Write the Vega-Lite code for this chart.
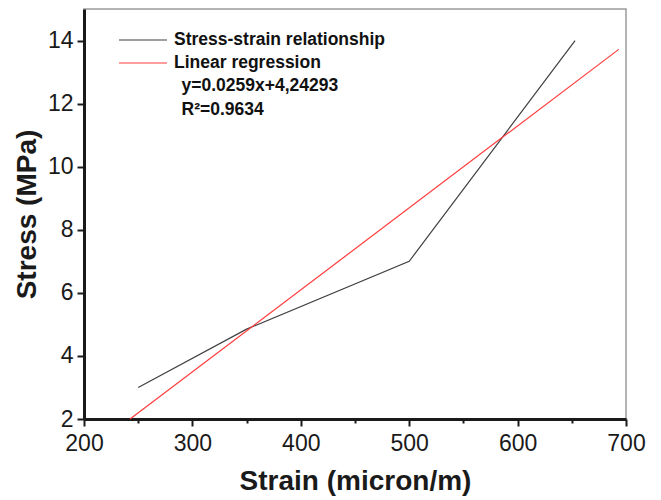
{
  "$schema": "https://vega.github.io/schema/vega-lite/v6.json",
  "width": 542,
  "height": 410,
  "autosize": {"type": "none"},
  "padding": {"left": 84, "top": 9, "right": 35, "bottom": 81},
  "background": "white",
  "config": {
    "font": "Liberation Sans",
    "view": {"stroke": "#9a9a9a", "strokeWidth": 1.5},
    "axis": {
      "grid": false,
      "domainColor": "#1a1a1a",
      "domainWidth": 3,
      "tickColor": "#1a1a1a",
      "tickWidth": 2,
      "labelFont": "Liberation Sans",
      "labelFontSize": 23,
      "labelColor": "#1a1a1a",
      "labelOverlap": false,
      "labelBound": false,
      "labelFlush": false,
      "titleFont": "Liberation Sans",
      "titleFontSize": 28,
      "titleFontWeight": "bold",
      "titleColor": "#1a1a1a"
    }
  },
  "layer": [
    {
      "data": {
        "values": [
          {"strain": 250, "stress": 3.0, "series": "Stress-strain relationship"},
          {"strain": 350, "stress": 4.85, "series": "Stress-strain relationship"},
          {"strain": 500, "stress": 7.0, "series": "Stress-strain relationship"},
          {"strain": 653, "stress": 14.0, "series": "Stress-strain relationship"},
          {"strain": 242.5, "stress": 2.0, "series": "Linear regression"},
          {"strain": 693.3, "stress": 13.72, "series": "Linear regression"}
        ]
      },
      "mark": {"type": "line", "strokeWidth": 1.2},
      "encoding": {
        "x": {
          "field": "strain",
          "type": "quantitative",
          "scale": {"domain": [200, 700], "nice": false, "zero": false},
          "axis": {
            "title": "Strain (micron/m)",
            "values": [200, 250, 300, 350, 400, 450, 500, 550, 600, 650, 700],
            "labelExpr": "datum.value % 100 === 0 ? datum.label : ''",
            "tickSize": {"condition": {"test": "datum.value % 100 === 0", "value": 7}, "value": 4},
            "labelPadding": 6,
            "titlePadding": 12
          }
        },
        "y": {
          "field": "stress",
          "type": "quantitative",
          "scale": {"domain": [2, 15], "nice": false, "zero": false},
          "axis": {
            "title": "Stress (MPa)",
            "values": [2, 3, 4, 5, 6, 7, 8, 9, 10, 11, 12, 13, 14],
            "labelExpr": "datum.value % 2 === 0 ? datum.label : ''",
            "tickSize": {"condition": {"test": "datum.value % 2 === 0", "value": 7}, "value": 4},
            "labelPadding": 4,
            "titlePadding": 6
          }
        },
        "color": {
          "field": "series",
          "type": "nominal",
          "scale": {
            "domain": ["Stress-strain relationship", "Linear regression"],
            "range": ["#404040", "#ff3b3b"]
          },
          "legend": {
            "title": null,
            "orient": "none",
            "legendX": 34,
            "legendY": 19.5,
            "padding": 0,
            "symbolType": "stroke",
            "symbolSize": 2304,
            "symbolStrokeWidth": 1.2,
            "clipHeight": 23,
            "rowPadding": 0,
            "labelOffset": 6,
            "labelFont": "Liberation Sans",
            "labelFontSize": 17.5,
            "labelFontWeight": "bold",
            "labelColor": "#111111",
            "labelLimit": 400
          }
        }
      }
    },
    {
      "data": {"values": [{"label": "y=0.0259x+4,24293"}]},
      "mark": {"type": "text", "align": "left", "baseline": "middle", "font": "Liberation Sans", "fontSize": 17.5, "fontWeight": "bold", "color": "#111111"},
      "encoding": {
        "x": {"datum": 290},
        "y": {"datum": 12.55},
        "text": {"field": "label"}
      }
    },
    {
      "data": {"values": [{"label": "R²=0.9634"}]},
      "mark": {"type": "text", "align": "left", "baseline": "middle", "font": "Liberation Sans", "fontSize": 17.5, "fontWeight": "bold", "color": "#111111"},
      "encoding": {
        "x": {"datum": 290},
        "y": {"datum": 11.8},
        "text": {"field": "label"}
      }
    }
  ]
}
